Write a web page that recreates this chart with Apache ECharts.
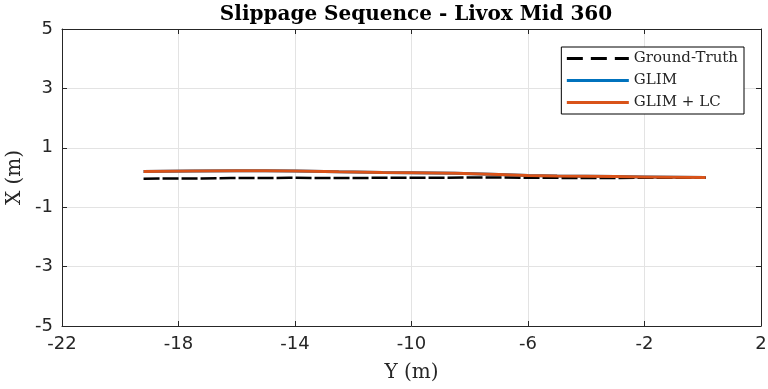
<!DOCTYPE html>
<html>
<head>
<meta charset="utf-8">
<script src="https://cdn.jsdelivr.net/npm/echarts@6/dist/echarts.min.js"></script>
<style>html,body{margin:0;padding:0;background:#fff}#c{width:768px;height:389px}</style>
</head>
<body>
<div id="c"></div>
<script>
var xTicks = [-22, -18, -14, -10, -6, -2, 2];
var yTicks = [-5, -3, -1, 1, 3, 5];

var gtX = [-19.2, -18.2, -17.2, -16.2, -15.2, -14.2, -13.2, -12.2, -11.2, -10.2, -9.2, -8.2, -7.2, -6.2, -5.2, -4.2, -3.2, -2.2, -1.2, -0.2, 0.1];
var gtY = [-0.04, -0.03, -0.03, -0.02, -0.02, -0.01, -0.02, -0.02, -0.01, -0.01, -0.01, 0.0, 0.0, -0.01, -0.01, -0.02, -0.02, -0.01, -0.01, -0.01, -0.01];

var glimX = [-19.2, -17.5, -16.0, -15.0, -14.0, -12.5, -11.0, -10.0, -8.5, -7.0, -6.0, -5.0, -4.0, -3.0, -2.0, -1.0, 0.1];
var glimY = [0.20, 0.22, 0.23, 0.23, 0.22, 0.19, 0.17, 0.16, 0.14, 0.10, 0.07, 0.05, 0.04, 0.03, 0.02, 0.01, 0.0];
var lcY   = [0.20, 0.22, 0.23, 0.23, 0.22, 0.19, 0.17, 0.16, 0.14, 0.10, 0.07, 0.05, 0.04, 0.03, 0.02, 0.01, 0.0];

function pairs(xs, ys) { return xs.map(function (x, i) { return [x, ys[i]]; }); }

var txt = '#262626';
var gridCol = '#e3e3e3';

function xAx(pos, show) {
  return {
    type: 'value', position: pos, min: -22, max: 2,
    name: show ? 'Y (m)' : '', nameLocation: 'middle', nameGap: 37, nameMoveOverlap: false,
    nameTextStyle: { fontFamily: 'DejaVu Serif', fontSize: 20, color: txt },
    axisLine: { show: true, onZero: false, lineStyle: { color: txt, width: 1 } },
    axisTick: { show: true, inside: true, length: 5, customValues: xTicks, lineStyle: { color: txt } },
    axisLabel: { show: show, customValues: xTicks, fontFamily: 'DejaVu Sans', fontSize: 18, color: txt, margin: 9 },
    splitLine: { show: show, lineStyle: { color: gridCol, width: 1 } }
  };
}
function yAx(pos, show) {
  return {
    type: 'value', position: pos, min: -5, max: 5,
    name: show ? 'X (m)' : '', nameLocation: 'middle', nameGap: 37, nameMoveOverlap: false,
    nameTextStyle: { fontFamily: 'DejaVu Serif', fontSize: 20, color: txt },
    axisLine: { show: true, onZero: false, lineStyle: { color: txt, width: 1 } },
    axisTick: { show: true, inside: true, length: 5, customValues: yTicks, lineStyle: { color: txt } },
    axisLabel: { show: show, customValues: yTicks, fontFamily: 'DejaVu Sans', fontSize: 18, color: txt, margin: 9 },
    splitLine: { show: show, lineStyle: { color: gridCol, width: 1 } }
  };
}

var chart = echarts.init(document.getElementById('c'), null, { renderer: 'canvas' });
chart.setOption({
  animation: false,
  backgroundColor: '#fff',
  title: {
    text: 'Slippage Sequence - Livox Mid 360', left: 411, top: 0, textAlign: 'center',
    textStyle: { fontFamily: 'DejaVu Serif', fontWeight: 'bold', fontSize: 20, color: '#000' }
  },
  grid: { left: 62, right: 7, top: 29, bottom: 63, containLabel: false, outerBoundsMode: 'none' },
  legend: {
    orient: 'vertical', right: 24, top: 47,
    backgroundColor: '#fff', borderColor: '#000', borderWidth: 1, borderRadius: 0,
    padding: [4, 6, 4, 4], itemWidth: 62, itemHeight: 14, itemGap: 7,
    itemStyle: { opacity: 0 },
    lineStyle: { width: 3 },
    textStyle: { fontFamily: 'DejaVu Serif', fontSize: 15, color: txt },
    data: [
      { name: 'Ground-Truth', lineStyle: { type: [16, 8], width: 3 } },
      'GLIM',
      'GLIM + LC'
    ]
  },
  xAxis: [xAx('bottom', true), xAx('top', false)],
  yAxis: [yAx('left', true), yAx('right', false)],
  series: [
    {
      name: 'Ground-Truth', type: 'line', data: pairs(gtX, gtY), showSymbol: false, symbol: 'none',
      lineStyle: { color: '#000', width: 2.5, type: [16, 3] }, itemStyle: { color: '#000' }, z: 3
    },
    {
      name: 'GLIM', type: 'line', data: pairs(glimX, glimY), showSymbol: false, symbol: 'none',
      lineStyle: { color: '#0072BD', width: 3 }, itemStyle: { color: '#0072BD' }, z: 2
    },
    {
      name: 'GLIM + LC', type: 'line', data: pairs(glimX, lcY), showSymbol: false, symbol: 'none',
      lineStyle: { color: '#D95319', width: 3 }, itemStyle: { color: '#D95319' }, z: 4
    }
  ]
});
</script>
</body>
</html>
